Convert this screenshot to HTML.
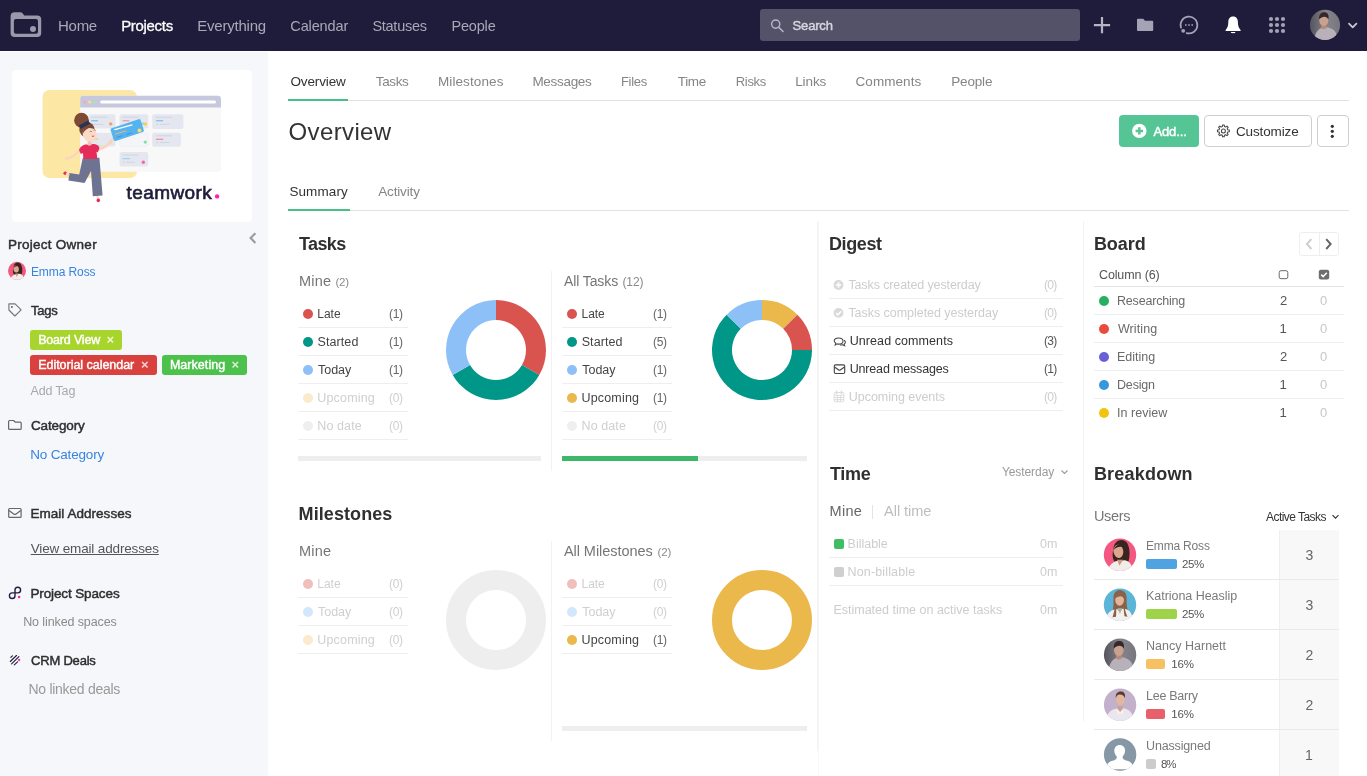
<!DOCTYPE html>
<html lang="en"><head><meta charset="utf-8"><title>Overview</title>
<style>
*{box-sizing:border-box;margin:0;padding:0}
html,body{width:1367px;height:776px;overflow:hidden;background:#fff}
body{font-family:"Liberation Sans",sans-serif;color:#3b3b3b;font-size:13px;position:relative}
.g{position:absolute;left:0;top:0;width:0;height:0;will-change:transform}
.t{position:absolute;white-space:nowrap;line-height:20px}
.a{position:absolute}
.hl{position:absolute;height:1px;background:#eeeeee}
.vl{position:absolute;width:1px;background:#f2f2f2}
.dot{position:absolute;width:10px;height:10px;border-radius:50%}
.bar{position:absolute;height:5px;background:#eeeeee}
svg{position:absolute;overflow:visible}
</style></head><body>

<!-- ===== top navigation ===== -->
<div id="nav" class="g">
<div class="a" style="left:0;top:0;width:1367px;height:51px;background:#1e1c3a"></div>
<svg style="left:0;top:0" width="60" height="50" viewBox="0 0 60 50"><path fill="#9a98aa" fill-rule="evenodd" d="M14.6 12.2h5.6q1.6 0 2.6 1.4l1.4 1.9h13a4 4 0 0 1 4 4v13.5a4 4 0 0 1-4 4H14.6a4 4 0 0 1-4-4V16.2a4 4 0 0 1 4-4zM15.9 19a2 2 0 0 0-2 2v10.8a2 2 0 0 0 2 2h20.1a2 2 0 0 0 2-2V21a2 2 0 0 0-2-2z"/><circle cx="33" cy="29.1" r="3" fill="#9a98aa"/></svg>
<div class="a" style="left:760px;top:9px;width:320px;height:32px;border-radius:3px;background:#545269"></div>
<svg style="left:768px;top:16px" width="18" height="18" viewBox="768 16 18 18"><circle cx="775.7" cy="24.1" r="4.1" fill="none" stroke="#b9b8c6" stroke-width="1.4"/><path d="M778.7 27.2l4.3 4.3" stroke="#b9b8c6" stroke-width="1.5" stroke-linecap="round"/></svg>
<div class="t" style="left:58.0px;top:16.0px;font-size:15px;color:#a9a8b8;letter-spacing:-0.27px;">Home</div>
<div class="t" style="left:121.2px;top:16.0px;font-size:15px;color:#ffffff;letter-spacing:-0.32px;-webkit-text-stroke:0.3px;">Projects</div>
<div class="t" style="left:197.3px;top:16.0px;font-size:15px;color:#a9a8b8;letter-spacing:-0.22px;">Everything</div>
<div class="t" style="left:290.3px;top:16.0px;font-size:14.5px;color:#a9a8b8;letter-spacing:-0.13px;">Calendar</div>
<div class="t" style="left:372.4px;top:16.0px;font-size:14.5px;color:#a9a8b8;letter-spacing:-0.26px;">Statuses</div>
<div class="t" style="left:451.5px;top:16.0px;font-size:14.5px;color:#a9a8b8;letter-spacing:-0.19px;">People</div>
<div class="t" style="left:792.6px;top:16.3px;font-size:13.0px;color:#d6d5de;letter-spacing:-0.17px;-webkit-text-stroke:0.46px;">Search</div>
<svg style="left:1087px;top:0" width="280" height="50" viewBox="1087 0 280 50">
 <path d="M1102 17v16.2M1093.9 25.1h16.2" stroke="#b5b4c3" stroke-width="2.2" fill="none"/>
 <path fill="#a4a3b5" d="M1138 18.8h5.2l1.8 2h7.2a1 1 0 0 1 1 1v8.3a1 1 0 0 1-1 1H1138a1 1 0 0 1-1-1V19.8a1 1 0 0 1 1-1z"/>
 <path d="M1181 27.7A8.4 8.4 0 1 1 1186.6 33.1" fill="none" stroke="#a4a3b5" stroke-width="1.7" stroke-linecap="round"/>
 <circle cx="1183.2" cy="30.8" r="1.9" fill="#a4a3b5"/>
 <path d="M1185 24.2h1.6v1.6h-1.6zM1188.2 24.2h1.6v1.6h-1.6zM1191.4 24.2h1.6v1.6h-1.6z" fill="#a4a3b5"/>
 <path fill="#fff" d="M1233.1 16.5c-3.5 0-4.8 2.5-4.8 5.6 0 3.5-0.7 5.6-2.7 7.9v1.1h15v-1.1c-2-2.3-2.7-4.4-2.7-7.9 0-3.1-1.3-5.6-4.8-5.6zM1230.7 32h4.8a2.4 1.2 0 0 1-4.8 0z"/>
 <g fill="#a4a3b5"><circle cx="1271" cy="19" r="2.1"/><circle cx="1277" cy="19" r="2.1"/><circle cx="1283" cy="19" r="2.1"/><circle cx="1271" cy="25" r="2.1"/><circle cx="1277" cy="25" r="2.1"/><circle cx="1283" cy="25" r="2.1"/><circle cx="1271" cy="31" r="2.1"/><circle cx="1277" cy="31" r="2.1"/><circle cx="1283" cy="31" r="2.1"/></g>
 <clipPath id="cavn"><circle cx="0" cy="0" r="16.2"/></clipPath><linearGradient id="gavn" x1="0" x2="1" y1="0" y2="0"><stop offset="0" stop-color="#55535b"/><stop offset="0.55" stop-color="#85838b"/><stop offset="1" stop-color="#77757d"/></linearGradient><g transform="translate(1325 24.9) scale(0.93)"><circle cx="0" cy="0" r="16.2" fill="url(#gavn)"/><g clip-path="url(#cavn)"><path d="M-11.5 18C-11.5 10 -8.5 5.5 -4 3.4L2.5 2.6C8 4 11.5 6 12.8 12L13.5 18Z" fill="#b8b1ba"/><path d="M-4 0.5h5.5v3.2q-2.8 2-5.5 0.3Z" fill="#b88a78"/><ellipse cx="-1.3" cy="-5.1" rx="4.9" ry="6.4" fill="#caa08f"/><path d="M-6.3-6C-7-12.8 -2.5-14 0-13.6C3.5-13.2 4.5-9.5 3.6-5.8C2.5-9.2 -2.5-10.5 -6.3-6Z" fill="#34282a"/></g></g>
 <path d="M1349 23.6l3.7 3.7 3.7-3.7" fill="none" stroke="#c9c8d4" stroke-width="1.8" stroke-linecap="round" stroke-linejoin="round"/>
</svg>
</div>

<!-- ===== sidebar ===== -->
<div id="sidebar" class="g">
<div class="a" style="left:0;top:52px;width:268px;height:724px;background:#f5f7fa"></div>
<div class="a" style="left:12px;top:70px;width:240px;height:152px;border-radius:4px;background:#fff"></div>
<svg style="left:0;top:0" width="1" height="1">
<rect x="42.5" y="90" width="94.6" height="88" rx="7" fill="#fce8a4"/>
<path d="M80.2 171.8V99a3.2 3.2 0 0 1 3.2-3.2h134.4a3.2 3.2 0 0 1 3.2 3.2v69.6a3.2 3.2 0 0 1-3.2 3.2z" fill="#f8f8f9"/>
<path d="M80.2 107.6V99a3.2 3.2 0 0 1 3.2-3.2h134.4a3.2 3.2 0 0 1 3.2 3.2v8.6z" fill="#c6c9dd"/>
<rect x="100.2" y="100.5" width="115.8" height="3" rx="1.5" fill="#fff"/>
<circle cx="84.7" cy="102" r="1.6" fill="#f4a6ba"/><circle cx="89.7" cy="102" r="1.6" fill="#f8e08e"/><circle cx="94.8" cy="102" r="1.6" fill="#a9e4b4"/>
<g fill="#e4e7ef">
<rect x="88.6" y="114.3" width="26.8" height="14.3" rx="2"/>
<rect x="119.5" y="114.3" width="28.7" height="14.3" rx="2"/>
<rect x="152.2" y="114.3" width="31.2" height="14.6" rx="2"/>
<rect x="88.6" y="133" width="26.8" height="13.4" rx="2"/>
<rect x="152.2" y="132.8" width="28.7" height="13.9" rx="2"/>
<rect x="119.5" y="152" width="28.7" height="14.4" rx="2"/>
</g>
<rect x="119.8" y="133" width="28.4" height="13.6" rx="2" fill="#f4f5f8" stroke="#dfe2ea" stroke-width="0.6" stroke-dasharray="1.2 1.2"/>
<g stroke-width="0.9" stroke="#cfd3de" fill="none">
<path d="M91.2 117.2h16M91.2 124.4h12.5"/>
<path d="M122.5 117.2h16"/>
<path d="M156 117.3h16M156 124.4h2.5M160.2 124.4h9.3"/>
<path d="M156 135.8h16M156 142.5h2.5M160.2 142.5h9.3"/>
<path d="M122.5 155h16M122.5 162.2h2.5M126.6 162.2h8.4"/>
<path d="M93 146h10"/>
</g>
<g stroke-width="1.3" fill="none">
<path d="M91.2 120.7h6.8" stroke="#7cc4f4"/>
<path d="M122.5 120.7h6.8" stroke="#f59aae"/>
<path d="M156 120.7h7.1" stroke="#7cc4f4"/>
<path d="M156 139.3h7.1" stroke="#f28ca0"/>
<path d="M122.5 158.6h7.5" stroke="#9fd3f6"/>
<path d="M92.8 139.2h5" stroke="#f6cf58"/>
</g>
<circle cx="110.7" cy="123.9" r="1.7" fill="#f59e6c"/>
<circle cx="145.3" cy="124" r="1.8" fill="#f8cc55"/><circle cx="142.6" cy="123.7" r="1.4" fill="#8ee0cf"/>
<circle cx="110.4" cy="142" r="1.6" fill="#8fe3a8"/>
<circle cx="145.3" cy="142.1" r="1.7" fill="#86e19f"/>
<circle cx="143.3" cy="162.3" r="1.7" fill="#f46aa4"/>
<!-- woman -->
<path d="M80 150.5c-4.5 4.5-8 7.5-13.8 8.2" fill="none" stroke="#fbd3bf" stroke-width="2.4" stroke-linecap="round"/>
<path d="M98.5 149.5c6-1.5 11-5 15.2-11.5" fill="none" stroke="#fbd3bf" stroke-width="2.6" stroke-linecap="round"/>
<path d="M82.7 158.2L99.4 157.8 102.6 195.4 92.8 196.2 91 171 84.6 183 68.4 180.4 69.4 173 79.2 174.4Z" fill="#6e7392"/>
<circle cx="65.2" cy="173.3" r="1.8" fill="#e8295c"/><path d="M66 173.5l3.2 1.8" stroke="#fbd3bf" stroke-width="2"/>
<ellipse cx="98.3" cy="200.3" rx="1.7" ry="2" fill="#e8295c"/><path d="M97.6 196v2.4" stroke="#fbd3bf" stroke-width="2"/>
<rect x="87.6" y="140" width="3.8" height="6" fill="#f6c4ae"/>
<path d="M79 150c1-3.5 4.5-5.5 8-5.5l2.5 1.5 2.5-1.8c3.5-0.5 6.5 1 7.5 3.5l-1.6 4.6-1.4-0.5 0.8 7-14 0.3-0.3-6-2.2 0.8z" fill="#e62d5a"/>
<circle cx="81.5" cy="120.2" r="7.4" fill="#7d4a36"/>
<circle cx="86.9" cy="129.6" r="7.6" fill="#7d4a36"/>
<path d="M78.8 125.6l9.5-5.2 1.8 3.3-9.5 5.2z" fill="#2b3353"/>
<path d="M83 131c3-3.5 9-4 12.5-0.5 1.8 2.5 1.5 6.5-0.5 9-2.5 2.8-7 2.8-9.5 0.5-2.2-2.2-3.5-6-2.5-9z" fill="#fbdac8"/>
<path d="M91.5 135.8q1.3 2.2 3 0z" fill="#d6364f"/>
<path d="M89.6 131.8q1.2-1.2 2.4 0M93.7 130.4q1-1 2 0" stroke="#7d4a36" stroke-width="0.6" fill="none"/>
<path d="M82.6 134c-0.5-4.5 3.5-8 8-6.5-3.5 0.8-6 3-8 6.5z" fill="#7d4a36"/>
<!-- blue card -->
<path d="M111.6 128.2l27-9a1.6 1.6 0 0 1 2 1l3.2 9.8a1.6 1.6 0 0 1-1 2l-27 9a1.6 1.6 0 0 1-2-1l-3.2-9.8a1.6 1.6 0 0 1 1-2z" fill="#55b3f0"/>
<path d="M114.8 129.6l17.2-4.8" stroke="#fff" stroke-width="1.3" stroke-linecap="round"/>
<path d="M115.5 134l10.5-3.1" stroke="#f3b56a" stroke-width="1" stroke-linecap="round"/>
<path d="M117 137.3l5-1.5M126.2 134.6l5-1.6" stroke="#3d97dd" stroke-width="1" stroke-linecap="round"/>
<circle cx="139.5" cy="130.6" r="2" fill="#f7dc6f"/>
<circle cx="217.1" cy="196.4" r="2.2" fill="#ff22b1"/>
</svg>
<div class="a" style="left:30px;top:330.3px;width:92px;height:19.4px;border-radius:3px;background:#a8d42e"></div><div class="a" style="left:30px;top:355.4px;width:127px;height:19.4px;border-radius:3px;background:#d9413f"></div><div class="a" style="left:162px;top:355.4px;width:85px;height:19.4px;border-radius:3px;background:#4cc14c"></div><div class="t" style="left:8.1px;top:235.2px;font-size:13.5px;color:#2f2f2f;letter-spacing:0.25px;-webkit-text-stroke:0.46px;">Project Owner</div>
<div class="t" style="left:126.6px;top:182.6px;font-size:19px;color:#1d1c39;letter-spacing:0.41px;-webkit-text-stroke:0.65px;">teamwork</div>
<div class="t" style="left:30.9px;top:262.4px;font-size:12.0px;color:#3a84df;letter-spacing:-0.08px;">Emma Ross</div>
<div class="t" style="left:30.9px;top:300.9px;font-size:13.0px;color:#2f2f2f;letter-spacing:-0.17px;-webkit-text-stroke:0.46px;">Tags</div>
<div class="t" style="left:38.2px;top:329.8px;font-size:12.5px;color:#fff;letter-spacing:-0.19px;-webkit-text-stroke:0.43px;">Board View</div>
<div class="t" style="left:106.5px;top:329.6px;font-size:13px;color:#eef7cf;font-weight:700;">×</div>
<div class="t" style="left:38.2px;top:354.9px;font-size:12.5px;color:#fff;letter-spacing:-0.03px;-webkit-text-stroke:0.43px;">Editorial calendar</div>
<div class="t" style="left:141.1px;top:354.7px;font-size:13px;color:#f7d4d3;font-weight:700;">×</div>
<div class="t" style="left:169.9px;top:354.9px;font-size:12.5px;color:#fff;letter-spacing:0.05px;-webkit-text-stroke:0.43px;">Marketing</div>
<div class="t" style="left:231.5px;top:354.7px;font-size:13px;color:#d6f2d6;font-weight:700;">×</div>
<div class="t" style="left:30.6px;top:381.0px;font-size:12.5px;color:#a9a9a9;letter-spacing:-0.15px;">Add Tag</div>
<div class="t" style="left:31.0px;top:416.1px;font-size:13.5px;color:#2f2f2f;letter-spacing:-0.13px;-webkit-text-stroke:0.46px;">Category</div>
<div class="t" style="left:30.3px;top:445.1px;font-size:13.5px;color:#3a84df;letter-spacing:-0.19px;">No Category</div>
<div class="t" style="left:30.4px;top:503.8px;font-size:13.5px;color:#2f2f2f;letter-spacing:0.04px;-webkit-text-stroke:0.46px;">Email Addresses</div>
<div class="t" style="left:30.7px;top:538.7px;font-size:13.5px;color:#555;letter-spacing:-0.15px;text-decoration:underline;">View email addresses</div>
<div class="t" style="left:30.4px;top:583.8px;font-size:13.5px;color:#2f2f2f;letter-spacing:-0.12px;-webkit-text-stroke:0.46px;">Project Spaces</div>
<div class="t" style="left:23.2px;top:612.0px;font-size:12.5px;color:#8a8a8a;letter-spacing:-0.11px;">No linked spaces</div>
<div class="t" style="left:31.0px;top:651.0px;font-size:13.0px;color:#2f2f2f;letter-spacing:-0.2px;-webkit-text-stroke:0.46px;">CRM Deals</div>
<div class="t" style="left:28.5px;top:678.7px;font-size:14px;color:#999;letter-spacing:-0.28px;">No linked deals</div>
<svg style="left:0;top:0" width="1" height="1"><path d="M255.4 233.2l-4.8 4.9 4.8 4.9" fill="none" stroke="#9a9a9a" stroke-width="2.1"/><path d="M8.9 303.9h6.2l6 6-6.2 6.1-6-6z" fill="none" stroke="#777" stroke-width="1.15" stroke-linejoin="round"/><circle cx="11.9" cy="306.9" r="1" fill="#666"/><path d="M9.6 420.5h4l1.8 1.7h4.8a1 1 0 0 1 1 1v5.2a1 1 0 0 1-1 1H9.6a1 1 0 0 1-1-1v-6.9a1 1 0 0 1 1-1z" fill="none" stroke="#666" stroke-width="1.2" stroke-linejoin="round"/><rect x="8.7" y="508.5" width="12.4" height="8.9" rx="1" fill="none" stroke="#666" stroke-width="1.2"/><path d="M9 510.5l4.7 3.5q1.2 0.9 2.4 0l4.7-3.5" fill="none" stroke="#666" stroke-width="1.2"/><path d="M15 590.1a2.8 2.8 0 1 1 2.8 2.8h-5.6a2.8 2.8 0 1 0 2.8 2.8z" fill="none" stroke="#23203f" stroke-width="1.4"/><circle cx="19.1" cy="597.1" r="1.25" fill="#ff1fb0"/><path d="M10.8 657.4l1.6-1.6M10.3 661.5l6.2-6M11.6 663.8l7.3-7.2M14.3 664.9l3.3-3" stroke="#23203f" stroke-width="1.15" stroke-linecap="round"/><circle cx="19.1" cy="660" r="1.15" fill="#ff1fb0"/></svg><svg style="left:0;top:0" width="1" height="1"><clipPath id="cav0"><circle cx="17" cy="270.8" r="9"/></clipPath><circle cx="17" cy="270.8" r="9" fill="#f4577f"/><g clip-path="url(#cav0)"><path d="M13.39 267.47C13.67 262.47 18.67 261.08 20.89 264.13C22.83 267.47 22.56 271.91 21.44 275.52C19.22 276.91 15.33 276.36 13.67 274.13C12.56 271.91 12.83 269.69 13.39 267.47Z" fill="#3a2420"/><path d="M10.33 278.58C12.00 275.24 14.22 274.41 15.89 274.13L19.78 273.86C22.00 274.41 23.39 275.80 23.94 278.58L24.22 280.80L10.33 280.80Z" fill="#f1edea"/><path d="M15.33 273.58L18.67 273.58L16.72 276.91Z" fill="#cf9a80"/><ellipse cx="16.11" cy="268.91" rx="2.72" ry="3.67" fill="#dba88f" transform="rotate(-8 16.11 268.91)"/><path d="M13.50 268.02C14.78 264.41 18.11 264.13 19.67 266.91C17.56 265.80 15.33 266.08 13.50 268.02Z" fill="#3a2420"/></g></svg>
</div>

<!-- ===== main ===== -->
<div id="main" class="g">
<div class="hl" style="left:288px;top:100px;width:1061px;background:#e2e2e2"></div>
<div class="a" style="left:288px;top:99px;width:60px;height:2px;background:#47c088"></div>
<div class="hl" style="left:288px;top:210px;width:1061px;background:#e2e2e2"></div>
<div class="a" style="left:288px;top:209px;width:62px;height:2px;background:#47c088"></div>
<div class="a" style="left:1119px;top:115px;width:80px;height:32px;border-radius:4px;background:#56c596"></div>
<div class="a" style="left:1204px;top:115px;width:108px;height:32px;border-radius:4px;border:1px solid #cfcfcf;background:#fff"></div>
<div class="a" style="left:1317px;top:115px;width:32px;height:32px;border-radius:4px;border:1px solid #cfcfcf;background:#fff"></div>
<svg style="left:0;top:0" width="1" height="1"><circle cx="1139.3" cy="130.9" r="7.2" fill="#fff"/><path d="M1139.3 127.2v7.4M1135.6 130.9h7.4" stroke="#56c596" stroke-width="2.5"/><path d="M1227.78 129.85L1229.34 130.05L1229.34 131.75L1227.78 131.95L1227.24 133.25L1228.20 134.50L1227.00 135.70L1225.75 134.74L1224.45 135.28L1224.25 136.84L1222.55 136.84L1222.35 135.28L1221.05 134.74L1219.80 135.70L1218.60 134.50L1219.56 133.25L1219.02 131.95L1217.46 131.75L1217.46 130.05L1219.02 129.85L1219.56 128.55L1218.60 127.30L1219.80 126.10L1221.05 127.06L1222.35 126.52L1222.55 124.96L1224.25 124.96L1224.45 126.52L1225.75 127.06L1227.00 126.10L1228.20 127.30L1227.24 128.55Z" fill="none" stroke="#444" stroke-width="1.05" stroke-linejoin="round"/><circle cx="1223.4" cy="130.9" r="2" fill="none" stroke="#444" stroke-width="1.05"/><circle cx="1332.3" cy="126.3" r="1.6" fill="#333"/><circle cx="1332.3" cy="131.3" r="1.6" fill="#333"/><circle cx="1332.3" cy="136.3" r="1.6" fill="#333"/></svg>
<div class="t" style="left:290.5px;top:72.3px;font-size:13.5px;color:#333;letter-spacing:-0.13px;">Overview</div>
<div class="t" style="left:375.8px;top:72.3px;font-size:13.5px;color:#858585;letter-spacing:-0.38px;">Tasks</div>
<div class="t" style="left:437.9px;top:72.3px;font-size:13.5px;color:#858585;letter-spacing:0.12px;">Milestones</div>
<div class="t" style="left:532.4px;top:72.3px;font-size:13.5px;color:#858585;letter-spacing:-0.3px;">Messages</div>
<div class="t" style="left:620.9px;top:72.3px;font-size:13.0px;color:#858585;letter-spacing:-0.28px;">Files</div>
<div class="t" style="left:677.7px;top:72.3px;font-size:13.5px;color:#858585;letter-spacing:-0.3px;">Time</div>
<div class="t" style="left:735.7px;top:72.3px;font-size:13.0px;color:#858585;letter-spacing:-0.28px;">Risks</div>
<div class="t" style="left:795.2px;top:72.3px;font-size:13.5px;color:#858585;letter-spacing:-0.1px;">Links</div>
<div class="t" style="left:855.5px;top:72.3px;font-size:13.5px;color:#858585;letter-spacing:0.07px;">Comments</div>
<div class="t" style="left:951.2px;top:72.3px;font-size:13.5px;color:#858585;letter-spacing:-0.16px;">People</div>
<div class="t" style="left:288.5px;top:121.9px;font-size:24px;color:#333;letter-spacing:0.38px;">Overview</div>
<div class="t" style="left:289.4px;top:181.9px;font-size:13.5px;color:#333;letter-spacing:0.1px;">Summary</div>
<div class="t" style="left:378.2px;top:181.9px;font-size:13.5px;color:#858585;letter-spacing:-0.15px;">Activity</div>
<div class="t" style="left:1153.4px;top:121.8px;font-size:13.0px;color:#fff;letter-spacing:-0.12px;-webkit-text-stroke:0.46px;">Add...</div>
<div class="t" style="left:1236.0px;top:121.8px;font-size:13.5px;color:#333;letter-spacing:-0.14px;">Customize</div>

<div class="vl" style="left:817px;top:221px;width:2px;height:530px;background:#f5f5f5"></div><div class="vl" style="left:818px;top:751px;height:25px;background:#f7f7f7"></div>
<div class="vl" style="left:1083px;top:221px;height:500px"></div>

<section id="tasks" class="g">
<div class="vl" style="left:551px;top:271px;height:200px"></div><div class="dot" style="left:303px;top:308.5px;background:#d9534f"></div><div class="dot" style="left:303px;top:336.5px;background:#009688"></div><div class="dot" style="left:303px;top:364.5px;background:#8cc0f6"></div><div class="dot" style="left:303px;top:392.5px;background:#f5c77a;opacity:.38"></div><div class="dot" style="left:303px;top:420.5px;background:#d5d5d5;opacity:.38"></div><div class="dot" style="left:567.2px;top:308.5px;background:#d9534f"></div><div class="dot" style="left:567.2px;top:336.5px;background:#009688"></div><div class="dot" style="left:567.2px;top:364.5px;background:#8cc0f6"></div><div class="dot" style="left:567.2px;top:392.5px;background:#ebb84b"></div><div class="dot" style="left:567.2px;top:420.5px;background:#d5d5d5;opacity:.38"></div><div class="hl" style="left:298px;top:327px;width:110px"></div><div class="hl" style="left:298px;top:355px;width:110px"></div><div class="hl" style="left:298px;top:383px;width:110px"></div><div class="hl" style="left:298px;top:411px;width:110px"></div><div class="hl" style="left:298px;top:439px;width:110px"></div><div class="hl" style="left:562px;top:327px;width:110px"></div><div class="hl" style="left:562px;top:355px;width:110px"></div><div class="hl" style="left:562px;top:383px;width:110px"></div><div class="hl" style="left:562px;top:411px;width:110px"></div><div class="hl" style="left:562px;top:439px;width:110px"></div><svg style="left:0;top:0" width="1" height="1"><path fill="#d9534f" d="M496.00 300.00A50 50 0 0 1 539.30 375.00L521.98 365.00A30 30 0 0 0 496.00 320.00Z"/><path fill="#009688" d="M539.30 375.00A50 50 0 0 1 452.70 375.00L470.02 365.00A30 30 0 0 0 521.98 365.00Z"/><path fill="#8cc0f6" d="M452.70 375.00A50 50 0 0 1 496.00 300.00L496.00 320.00A30 30 0 0 0 470.02 365.00Z"/><path fill="#ebb84b" d="M762.00 300.00A50 50 0 0 1 797.36 314.64L783.21 328.79A30 30 0 0 0 762.00 320.00Z"/><path fill="#d9534f" d="M797.36 314.64A50 50 0 0 1 812.00 350.00L792.00 350.00A30 30 0 0 0 783.21 328.79Z"/><path fill="#009688" d="M812.00 350.00A50 50 0 1 1 726.64 314.64L740.79 328.79A30 30 0 1 0 792.00 350.00Z"/><path fill="#8cc0f6" d="M726.64 314.64A50 50 0 0 1 762.00 300.00L762.00 320.00A30 30 0 0 0 740.79 328.79Z"/></svg><div class="bar" style="left:298px;top:456px;width:243px"></div><div class="bar" style="left:562px;top:456px;width:245px"><div style="width:136px;height:5px;background:#3db868"></div></div>
<div class="t" style="left:299.0px;top:233.9px;font-size:18px;color:#303030;font-weight:700;letter-spacing:-0.63px;">Tasks</div>
<div class="t" style="left:299.0px;top:271.2px;font-size:14.5px;color:#757575;letter-spacing:0.18px;">Mine</div>
<div class="t" style="left:335.4px;top:272.2px;font-size:11.5px;color:#8a8a8a;letter-spacing:-0.13px;">(2)</div>
<div class="t" style="left:563.9px;top:271.2px;font-size:14.0px;color:#757575;letter-spacing:-0.09px;">All Tasks</div>
<div class="t" style="left:622.4px;top:272.2px;font-size:12.0px;color:#8a8a8a;letter-spacing:-0.09px;">(12)</div>
<div class="t" style="left:317.3px;top:303.8px;font-size:12.0px;color:#444;letter-spacing:-0.02px;">Late</div>
<div class="t" style="left:389.0px;top:303.8px;font-size:12.0px;color:#666;letter-spacing:-0.32px;">(1)</div>
<div class="t" style="left:317.5px;top:331.8px;font-size:12.5px;color:#444;letter-spacing:0.09px;">Started</div>
<div class="t" style="left:389.0px;top:331.8px;font-size:12.0px;color:#666;letter-spacing:-0.32px;">(1)</div>
<div class="t" style="left:318.1px;top:359.8px;font-size:12.5px;color:#444;letter-spacing:-0.06px;">Today</div>
<div class="t" style="left:389.0px;top:359.8px;font-size:12.0px;color:#666;letter-spacing:-0.32px;">(1)</div>
<div class="t" style="left:317.3px;top:387.8px;font-size:12.5px;color:#cfcfcf;letter-spacing:0.17px;">Upcoming</div>
<div class="t" style="left:389.0px;top:387.8px;font-size:12.0px;color:#cfcfcf;letter-spacing:-0.32px;">(0)</div>
<div class="t" style="left:317.3px;top:415.8px;font-size:12.5px;color:#cfcfcf;letter-spacing:0.1px;">No date</div>
<div class="t" style="left:389.0px;top:415.8px;font-size:12.0px;color:#cfcfcf;letter-spacing:-0.32px;">(0)</div>
<div class="t" style="left:581.5px;top:303.8px;font-size:12.0px;color:#444;letter-spacing:-0.02px;">Late</div>
<div class="t" style="left:653.0px;top:303.8px;font-size:12.0px;color:#666;letter-spacing:-0.32px;">(1)</div>
<div class="t" style="left:581.7px;top:331.8px;font-size:12.5px;color:#444;letter-spacing:0.09px;">Started</div>
<div class="t" style="left:653.0px;top:331.8px;font-size:12.0px;color:#666;letter-spacing:-0.32px;">(5)</div>
<div class="t" style="left:582.3px;top:359.8px;font-size:12.5px;color:#444;letter-spacing:-0.06px;">Today</div>
<div class="t" style="left:653.0px;top:359.8px;font-size:12.0px;color:#666;letter-spacing:-0.32px;">(1)</div>
<div class="t" style="left:581.5px;top:387.8px;font-size:12.5px;color:#444;letter-spacing:0.17px;">Upcoming</div>
<div class="t" style="left:653.0px;top:387.8px;font-size:12.0px;color:#666;letter-spacing:-0.32px;">(1)</div>
<div class="t" style="left:581.5px;top:415.8px;font-size:12.5px;color:#cfcfcf;letter-spacing:0.1px;">No date</div>
<div class="t" style="left:653.0px;top:415.8px;font-size:12.0px;color:#cfcfcf;letter-spacing:-0.32px;">(0)</div>
</section>
<section id="milestones" class="g">
<div class="vl" style="left:551px;top:541px;height:200px"></div><div class="dot" style="left:303px;top:578.7px;background:#d9534f;opacity:.38"></div><div class="dot" style="left:303px;top:606.7px;background:#8cc0f6;opacity:.38"></div><div class="dot" style="left:303px;top:634.7px;background:#f5c77a;opacity:.38"></div><div class="dot" style="left:567.2px;top:578.7px;background:#d9534f;opacity:.38"></div><div class="dot" style="left:567.2px;top:606.7px;background:#8cc0f6;opacity:.38"></div><div class="dot" style="left:567.2px;top:634.7px;background:#ebb84b"></div><div class="hl" style="left:298px;top:597px;width:110px"></div><div class="hl" style="left:298px;top:625px;width:110px"></div><div class="hl" style="left:298px;top:653px;width:110px"></div><div class="hl" style="left:562px;top:597px;width:110px"></div><div class="hl" style="left:562px;top:625px;width:110px"></div><div class="hl" style="left:562px;top:653px;width:110px"></div><svg style="left:0;top:0" width="1" height="1"><circle cx="496" cy="620" r="40" fill="none" stroke="#eeeeee" stroke-width="20"/><circle cx="762" cy="620" r="40" fill="none" stroke="#ebb84b" stroke-width="20"/></svg><div class="bar" style="left:562px;top:726px;width:245px"></div>
<div class="t" style="left:298.6px;top:504.2px;font-size:18px;color:#303030;font-weight:700;letter-spacing:0.08px;">Milestones</div>
<div class="t" style="left:299.0px;top:541.4px;font-size:14.5px;color:#757575;letter-spacing:0.18px;">Mine</div>
<div class="t" style="left:563.9px;top:541.4px;font-size:14.5px;color:#757575;letter-spacing:-0.04px;">All Milestones</div>
<div class="t" style="left:657.5px;top:542.4px;font-size:11.5px;color:#8a8a8a;letter-spacing:-0.13px;">(2)</div>
<div class="t" style="left:317.3px;top:573.8px;font-size:12.0px;color:#cfcfcf;letter-spacing:-0.02px;">Late</div>
<div class="t" style="left:389.0px;top:573.8px;font-size:12.0px;color:#cfcfcf;letter-spacing:-0.32px;">(0)</div>
<div class="t" style="left:318.1px;top:601.8px;font-size:12.5px;color:#cfcfcf;letter-spacing:-0.06px;">Today</div>
<div class="t" style="left:389.0px;top:601.8px;font-size:12.0px;color:#cfcfcf;letter-spacing:-0.32px;">(0)</div>
<div class="t" style="left:317.3px;top:629.8px;font-size:12.5px;color:#cfcfcf;letter-spacing:0.17px;">Upcoming</div>
<div class="t" style="left:389.0px;top:629.8px;font-size:12.0px;color:#cfcfcf;letter-spacing:-0.32px;">(0)</div>
<div class="t" style="left:581.5px;top:573.8px;font-size:12.0px;color:#cfcfcf;letter-spacing:-0.02px;">Late</div>
<div class="t" style="left:653.0px;top:573.8px;font-size:12.0px;color:#cfcfcf;letter-spacing:-0.32px;">(0)</div>
<div class="t" style="left:582.3px;top:601.8px;font-size:12.5px;color:#cfcfcf;letter-spacing:-0.06px;">Today</div>
<div class="t" style="left:653.0px;top:601.8px;font-size:12.0px;color:#cfcfcf;letter-spacing:-0.32px;">(0)</div>
<div class="t" style="left:581.5px;top:629.8px;font-size:12.5px;color:#444;letter-spacing:0.17px;">Upcoming</div>
<div class="t" style="left:653.0px;top:629.8px;font-size:12.0px;color:#666;letter-spacing:-0.32px;">(1)</div>
</section>
<section id="digest" class="g">
<svg style="left:0;top:0" width="1" height="1"><circle cx="838.5" cy="285" r="4.9" fill="#d9d9d9"/><path d="M838.5 282.2v5.6M835.7 285h5.6" stroke="#fff" stroke-width="1.7"/><circle cx="838.5" cy="312.9" r="4.9" fill="#d9d9d9"/><path d="M836 313l1.8 1.8 3.3-3.5" stroke="#fff" stroke-width="1.6" fill="none"/><path d="M838.6 337.9c2.6 0 4.4 1.4 4.4 3.1s-1.8 3.1-4.4 3.1c-0.5 0-1-0.1-1.4-0.2l-2 1 0.6-1.8c-1-0.6-1.6-1.3-1.6-2.1 0-1.7 1.8-3.1 4.4-3.1z" fill="none" stroke="#444" stroke-width="1.05"/><path d="M844 340.2c0.9 0.5 1.4 1.2 1.4 2s-0.5 1.4-1.3 1.9l0.6 1.7-2-1c-0.8 0.2-1.8 0.2-2.7-0.1" fill="none" stroke="#444" stroke-width="1.05"/><rect x="834.3" y="364.9" width="10.4" height="8.6" rx="1.2" fill="none" stroke="#444" stroke-width="1.1"/><path d="M834.5 367l3.9 2.8q1.1 0.8 2.2 0l3.9-2.8" fill="none" stroke="#444" stroke-width="1.1"/><g stroke="#dcdcdc" fill="none" stroke-width="1"><rect x="834.2" y="392.5" width="9.6" height="9.3" rx="0.8"/><path d="M834.2 395.2h9.6M837.4 395.2v6.6M840.6 395.2v6.6M834.2 397.5h9.6M834.2 399.7h9.6"/><path d="M836.6 391.2v2.2M841.4 391.2v2.2" stroke-width="1.5" stroke-linecap="round"/></g></svg>
<div class="hl" style="left:829px;top:298px;width:234px"></div><div class="hl" style="left:829px;top:326px;width:234px"></div><div class="hl" style="left:829px;top:354px;width:234px"></div><div class="hl" style="left:829px;top:382px;width:234px"></div><div class="hl" style="left:829px;top:410px;width:234px"></div>
<div class="t" style="left:828.9px;top:233.7px;font-size:18px;color:#303030;font-weight:700;letter-spacing:-0.36px;">Digest</div>
<div class="t" style="left:848.4px;top:275.1px;font-size:12.5px;color:#cdcdcd;letter-spacing:-0.11px;">Tasks created yesterday</div>
<div class="t" style="left:1043.9px;top:275.1px;font-size:12.0px;color:#cdcdcd;letter-spacing:-0.62px;">(0)</div>
<div class="t" style="left:848.4px;top:303.1px;font-size:12.5px;color:#cdcdcd;letter-spacing:-0.04px;">Tasks completed yesterday</div>
<div class="t" style="left:1043.9px;top:303.1px;font-size:12.0px;color:#cdcdcd;letter-spacing:-0.62px;">(0)</div>
<div class="t" style="left:849.7px;top:331.1px;font-size:12.5px;color:#333;letter-spacing:0.08px;">Unread comments</div>
<div class="t" style="left:1043.9px;top:331.1px;font-size:12.0px;color:#555;letter-spacing:-0.62px;">(3)</div>
<div class="t" style="left:849.7px;top:359.1px;font-size:12.5px;color:#333;letter-spacing:-0.17px;">Unread messages</div>
<div class="t" style="left:1043.9px;top:359.1px;font-size:12.0px;color:#555;letter-spacing:-0.62px;">(1)</div>
<div class="t" style="left:848.8px;top:387.1px;font-size:12.5px;color:#cdcdcd;letter-spacing:-0.03px;">Upcoming events</div>
<div class="t" style="left:1043.9px;top:387.1px;font-size:12.0px;color:#cdcdcd;letter-spacing:-0.62px;">(0)</div>
</section>
<section id="time" class="g">
<div class="a" style="left:872px;top:505px;width:1px;height:14px;background:#e4e4e4"></div><div class="a" style="left:833.7px;top:539px;width:10px;height:10px;border-radius:2px;background:#3fbf62"></div><div class="a" style="left:833.7px;top:567px;width:10px;height:10px;border-radius:2px;background:#cfcfcf"></div><div class="hl" style="left:829px;top:557px;width:234px"></div><div class="hl" style="left:829px;top:585px;width:234px"></div><svg style="left:1060px;top:468px" width="9" height="8" viewBox="0 0 9 8"><path d="M1.5 2.5l3 3 3-3" fill="none" stroke="#999" stroke-width="1.1"/></svg>
<div class="t" style="left:829.9px;top:463.7px;font-size:18px;color:#303030;font-weight:700;letter-spacing:-0.3px;">Time</div>
<div class="t" style="left:1001.9px;top:462.1px;font-size:12.0px;color:#999;letter-spacing:-0.07px;">Yesterday</div>
<div class="t" style="left:829.5px;top:500.5px;font-size:14.5px;color:#666;letter-spacing:0.31px;">Mine</div>
<div class="t" style="left:884.1px;top:500.5px;font-size:14.5px;color:#bdbdbd;letter-spacing:-0.04px;">All time</div>
<div class="t" style="left:847.6px;top:533.8px;font-size:12.5px;color:#cdcdcd;letter-spacing:-0.01px;">Billable</div>
<div class="t" style="left:1039.9px;top:533.8px;font-size:12.5px;color:#cdcdcd;letter-spacing:0.15px;">0m</div>
<div class="t" style="left:847.6px;top:561.7px;font-size:12.5px;color:#cdcdcd;letter-spacing:0.14px;">Non-billable</div>
<div class="t" style="left:1039.9px;top:561.7px;font-size:12.5px;color:#cdcdcd;letter-spacing:0.15px;">0m</div>
<div class="t" style="left:833.4px;top:600.0px;font-size:12.5px;color:#cdcdcd;">Estimated time on active tasks</div>
<div class="t" style="left:1039.9px;top:600.0px;font-size:12.5px;color:#cdcdcd;letter-spacing:0.15px;">0m</div>
</section>
<section id="board" class="g">
<div class="a" style="left:1299px;top:231.5px;width:40px;height:24px;border:1px solid #eee;border-radius:3px"></div><div class="a" style="left:1318.5px;top:232px;width:1px;height:23px;background:#eee"></div><svg style="left:1299px;top:232px" width="40" height="24" viewBox="0 0 40 24"><path d="M12.4 7.2l-4.4 4.9 4.4 4.9" fill="none" stroke="#cdcdcd" stroke-width="1.9"/><path d="M27.2 7.2l4.4 4.9-4.4 4.9" fill="none" stroke="#666" stroke-width="2"/></svg><div class="hl" style="left:1094px;top:286px;width:250px;background:#e4e4e4"></div><div class="hl" style="left:1094px;top:314px;width:250px"></div><div class="hl" style="left:1094px;top:342px;width:250px"></div><div class="hl" style="left:1094px;top:370px;width:250px"></div><div class="hl" style="left:1094px;top:398px;width:250px"></div><div class="dot" style="left:1098.8px;top:295.7px;background:#27ae60"></div><div class="dot" style="left:1098.8px;top:323.7px;background:#e74c3c"></div><div class="dot" style="left:1098.8px;top:351.7px;background:#6a5fd6"></div><div class="dot" style="left:1098.8px;top:379.7px;background:#3498db"></div><div class="dot" style="left:1098.8px;top:407.7px;background:#f1c40f"></div><svg style="left:1278px;top:269px" width="56" height="12" viewBox="1278 269 56 12"><rect x="1279.2" y="270.7" width="8.6" height="8" rx="1.8" fill="none" stroke="#6a6a6a" stroke-width="1"/><rect x="1318.8" y="269.8" width="10.4" height="9.6" rx="2" fill="#6e6e6e"/><path d="M1321.2 274.6l2 2 3.6-3.8" fill="none" stroke="#fff" stroke-width="1.5"/></svg>
<div class="t" style="left:1093.9px;top:233.9px;font-size:18px;color:#303030;font-weight:700;letter-spacing:-0.05px;">Board</div>
<div class="t" style="left:1099.0px;top:264.9px;font-size:12.5px;color:#555;letter-spacing:-0.13px;">Column (6)</div>
<div class="t" style="left:1117.0px;top:291.0px;font-size:12.5px;color:#6a6a6a;letter-spacing:-0.19px;">Researching</div>
<div class="t" style="left:1279.9px;top:291.0px;font-size:13px;color:#555;">2</div>
<div class="t" style="left:1319.9px;top:291.0px;font-size:13px;color:#c8c8c8;">0</div>
<div class="t" style="left:1117.9px;top:319.0px;font-size:12.5px;color:#6a6a6a;letter-spacing:0.1px;">Writing</div>
<div class="t" style="left:1279.4px;top:319.0px;font-size:13px;color:#555;">1</div>
<div class="t" style="left:1319.9px;top:319.0px;font-size:13px;color:#c8c8c8;">0</div>
<div class="t" style="left:1117.0px;top:347.0px;font-size:12.5px;color:#6a6a6a;letter-spacing:-0.02px;">Editing</div>
<div class="t" style="left:1279.9px;top:347.0px;font-size:13px;color:#555;">2</div>
<div class="t" style="left:1319.9px;top:347.0px;font-size:13px;color:#c8c8c8;">0</div>
<div class="t" style="left:1117.0px;top:375.0px;font-size:12.5px;color:#6a6a6a;letter-spacing:-0.17px;">Design</div>
<div class="t" style="left:1279.4px;top:375.0px;font-size:13px;color:#555;">1</div>
<div class="t" style="left:1319.9px;top:375.0px;font-size:13px;color:#c8c8c8;">0</div>
<div class="t" style="left:1117.0px;top:403.0px;font-size:12.5px;color:#6a6a6a;letter-spacing:0.04px;">In review</div>
<div class="t" style="left:1279.4px;top:403.0px;font-size:13px;color:#555;">1</div>
<div class="t" style="left:1319.9px;top:403.0px;font-size:13px;color:#c8c8c8;">0</div>
</section>
<section id="breakdown" class="g">
<div class="a" style="left:1279px;top:530px;width:60px;height:246px;background:#f8f8f8;border-left:1px solid #efefef"></div><div class="hl" style="left:1094px;top:579px;width:245px;background:#e9e9e9"></div><div class="hl" style="left:1094px;top:629px;width:245px;background:#e9e9e9"></div><div class="hl" style="left:1094px;top:679px;width:245px;background:#e9e9e9"></div><div class="hl" style="left:1094px;top:729px;width:245px;background:#e9e9e9"></div><svg style="left:1331px;top:513px" width="9" height="8" viewBox="0 0 9 8"><path d="M1.5 2.2l3 3 3-3" fill="none" stroke="#333" stroke-width="1.1"/></svg><div class="a" style="left:1146px;top:559px;width:31px;height:10px;border-radius:2px;background:#4fa3e0"></div><div class="a" style="left:1146px;top:609px;width:31px;height:10px;border-radius:2px;background:#9ed44a"></div><div class="a" style="left:1146px;top:659px;width:19px;height:10px;border-radius:2px;background:#f7c162"></div><div class="a" style="left:1146px;top:709px;width:19px;height:10px;border-radius:2px;background:#e8616a"></div><div class="a" style="left:1146px;top:759px;width:10px;height:10px;border-radius:2px;background:#cccccc"></div><svg style="left:0;top:0" width="1" height="1"><clipPath id="cav1"><circle cx="1120" cy="554.8" r="16.2"/></clipPath><circle cx="1120" cy="554.8" r="16.2" fill="#f4577f"/><g clip-path="url(#cav1)"><path d="M1113.50 548.80C1114.00 539.80 1123.00 537.30 1127.00 542.80C1130.50 548.80 1130.00 556.80 1128.00 563.30C1124.00 565.80 1117.00 564.80 1114.00 560.80C1112.00 556.80 1112.50 552.80 1113.50 548.80Z" fill="#3a2420"/><path d="M1108.00 568.80C1111.00 562.80 1115.00 561.30 1118.00 560.80L1125.00 560.30C1129.00 561.30 1131.50 563.80 1132.50 568.80L1133.00 572.80L1108.00 572.80Z" fill="#f1edea"/><path d="M1117.00 559.80L1123.00 559.80L1119.50 565.80Z" fill="#cf9a80"/><ellipse cx="1118.40" cy="551.40" rx="4.90" ry="6.60" fill="#dba88f" transform="rotate(-8 1118.40 551.40)"/><path d="M1113.70 549.80C1116.00 543.30 1122.00 542.80 1124.80 547.80C1121.00 545.80 1117.00 546.30 1113.70 549.80Z" fill="#3a2420"/></g><clipPath id="cav2"><circle cx="0" cy="0" r="16.2"/></clipPath><circle cx="1120" cy="604.8" r="16.2" fill="#5cb4d6"/><g clip-path="url(#cav2)" transform="translate(1120 604.8)"><path d="M-6.5-6C-7-13 -2-15.5 1-14.6C6-14 7-9 6.6-4C6.5 2 8 7 9 12L-9 13C-7.5 8 -6 2 -6.5-6Z" fill="#8a6248"/><path d="M-14 13C-12 7 -8 5 -4 4.5L4 4C8 4.5 10.5 6 12.5 12.5L13 18H-14Z" fill="#f3f1ef"/><path d="M-2.5 3.5h4.5L0 9.5Z" fill="#d8a88f"/><ellipse cx="-0.4" cy="-5" rx="4.4" ry="6" fill="#e3b59c"/><path d="M-4.9-6C-4.5-11 -1-11.8 1-11.2C3.5-10.8 4.6-8.5 4.2-5.5C3-8.5 0-10 -4.9-6Z" fill="#8a6248"/><path d="M-5 1C-5.5 6 -6.5 9 -7.5 12.5L-4 12C-3.5 8 -3.8 4 -4 1.5ZM4.4 1C5 5 6 9 7.5 12L4.5 11.5C4 8 3.6 4 3.6 2Z" fill="#8a6248"/><path d="M-2.5 4.8q2 1.6 4.2 0" stroke="#4fc3c1" stroke-width="1" fill="none"/></g><clipPath id="cav3"><circle cx="0" cy="0" r="16.2"/></clipPath><linearGradient id="gav3" x1="0" x2="1" y1="0" y2="0"><stop offset="0" stop-color="#55535b"/><stop offset="0.55" stop-color="#85838b"/><stop offset="1" stop-color="#77757d"/></linearGradient><g transform="translate(1120.1 654.7) scale(1)"><circle cx="0" cy="0" r="16.2" fill="url(#gav3)"/><g clip-path="url(#cav3)"><path d="M-11.5 18C-11.5 10 -8.5 5.5 -4 3.4L2.5 2.6C8 4 11.5 6 12.8 12L13.5 18Z" fill="#b8b1ba"/><path d="M-4 0.5h5.5v3.2q-2.8 2-5.5 0.3Z" fill="#b88a78"/><ellipse cx="-1.3" cy="-5.1" rx="4.9" ry="6.4" fill="#caa08f"/><path d="M-6.3-6C-7-12.8 -2.5-14 0-13.6C3.5-13.2 4.5-9.5 3.6-5.8C2.5-9.2 -2.5-10.5 -6.3-6Z" fill="#34282a"/></g></g><clipPath id="cav4"><circle cx="0" cy="0" r="16.2"/></clipPath><circle cx="1120.1" cy="704.8" r="16.2" fill="#c3b0cb"/><g clip-path="url(#cav4)" transform="translate(1120.1 704.8)"><path d="M-13.5 14C-12.5 7.5 -9 5 -4.5 4L4.5 3.8C9 5 12 7.5 13 13.5L13.5 18H-13.5Z" fill="#e9e6ee"/><path d="M-2.6 1.5h5.2v3L0 7.5 -2.6 4.5Z" fill="#d2a189"/><path d="M-3.5 3.5L0 7.5 -2 10ZM3.5 3.5L0 7.5 2 10Z" fill="#f7f5f9"/><ellipse cx="0.4" cy="-5.5" rx="4.3" ry="5.8" fill="#e2b69f"/><path d="M-4.2-6.5C-5-12 -1.5-13.8 1.5-13.2C4.5-13 5.5-9.5 4.8-6.5C4-9.5 2-10.5 -0.5-10.3C-2.5-10.2 -3.8-9 -4.2-6.5Z" fill="#5a3a2c"/></g><clipPath id="cav5"><circle cx="0" cy="0" r="16.2"/></clipPath><circle cx="1120.1" cy="754.5" r="16.2" fill="#8698a6"/><g clip-path="url(#cav5)" transform="translate(1120.1 754.5)"><path d="M-0.4-9.5C3-9.5 5-7 5-4C5-1.5 4 0.5 2.6 1.8V3.5C3 5 5 5.8 8 6.5C11 7.5 13 9.5 13.5 14.7H-14C-13.5 9.5 -11.5 7.5 -8.5 6.5C-5.5 5.8 -3.8 5 -3.4 3.5V1.8C-4.8 0.5 -5.8-1.5 -5.8-4C-5.8-7 -3.8-9.5 -0.4-9.5Z" fill="#fff"/></g></svg>
<div class="t" style="left:1093.9px;top:464.0px;font-size:18px;color:#303030;font-weight:700;letter-spacing:0.21px;">Breakdown</div>
<div class="t" style="left:1094.0px;top:505.7px;font-size:14.5px;color:#777;letter-spacing:-0.35px;">Users</div>
<div class="t" style="left:1266.0px;top:506.7px;font-size:12px;color:#333;letter-spacing:-0.55px;">Active Tasks</div>
<div class="t" style="left:1146.0px;top:535.8px;font-size:12.0px;color:#7a7a7a;letter-spacing:-0.18px;">Emma Ross</div>
<div class="t" style="left:1182.0px;top:553.6px;font-size:11.5px;color:#555;letter-spacing:-0.44px;">25%</div>
<div class="t" style="left:1305.4px;top:544.6px;font-size:14px;color:#666;">3</div>
<div class="t" style="left:1146.0px;top:585.8px;font-size:12.5px;color:#7a7a7a;letter-spacing:-0.04px;">Katriona Heaslip</div>
<div class="t" style="left:1182.0px;top:603.6px;font-size:11.5px;color:#555;letter-spacing:-0.44px;">25%</div>
<div class="t" style="left:1305.4px;top:594.6px;font-size:14px;color:#666;">3</div>
<div class="t" style="left:1146.0px;top:635.8px;font-size:12.5px;color:#7a7a7a;letter-spacing:0.01px;">Nancy Harnett</div>
<div class="t" style="left:1171.2px;top:653.6px;font-size:11.5px;color:#555;letter-spacing:-0.14px;">16%</div>
<div class="t" style="left:1305.4px;top:644.6px;font-size:14px;color:#666;">2</div>
<div class="t" style="left:1146.0px;top:685.8px;font-size:12.5px;color:#7a7a7a;letter-spacing:-0.26px;">Lee Barry</div>
<div class="t" style="left:1171.2px;top:703.6px;font-size:11.5px;color:#555;letter-spacing:-0.14px;">16%</div>
<div class="t" style="left:1305.4px;top:694.6px;font-size:14px;color:#666;">2</div>
<div class="t" style="left:1146.0px;top:735.8px;font-size:12.5px;color:#7a7a7a;letter-spacing:-0.15px;">Unassigned</div>
<div class="t" style="left:1160.9px;top:753.6px;font-size:11.5px;color:#555;letter-spacing:-1.06px;">8%</div>
<div class="t" style="left:1304.9px;top:744.6px;font-size:14px;color:#666;">1</div>
</section>
</div>
</body></html>
